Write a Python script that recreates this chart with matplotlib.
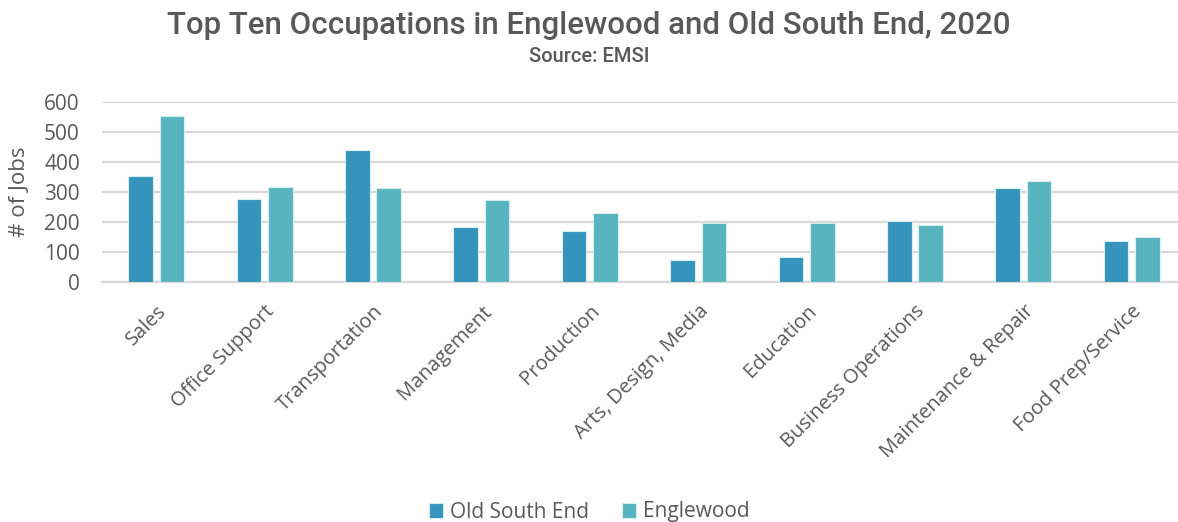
import numpy as np
from matplotlib import pyplot as plt

categories = ['Sales', 'Office Support', 'Transportation', 'Management', 'Production',
              'Arts, Design, Media', 'Education', 'Business Operations',
              'Maintenance & Repair', 'Food Prep/Service']
old_south_end = [352, 276, 440, 182, 169, 72, 84, 202, 314, 137]
englewood = [552, 316, 314, 272, 231, 198, 196, 189, 336, 150]
yticks = [0, 100, 200, 300, 400, 500, 600]

c_ose = '#3594bb'
c_eng = '#58b5c0'
grey = '#595959'

plt.rcParams['font.family'] = ['Open Sans', 'DejaVu Sans']

fig = plt.figure(figsize=(11.78, 5.22), dpi=100)
ax = fig.add_axes([102 / 1178, 1 - 282 / 522, 1084 / 1178, 180 / 522])

x = np.arange(len(categories))
w = 0.226
off = 0.145
ax.bar(x - off, old_south_end, w, color=c_ose, edgecolor='#d6eef2', linewidth=0.8,
       label='Old South End', zorder=3)
ax.bar(x + off, englewood, w, color=c_eng, edgecolor='#d6eef2', linewidth=0.8,
       label='Englewood', zorder=3)

ax.set_xlim(-0.5, len(categories) - 0.5)
ax.set_ylim(0, 600)
ax.set_yticks(yticks)
ax.set_yticklabels([str(v) for v in yticks], fontsize=15, color=grey)
ax.set_xticks(x)
ax.set_xticklabels(categories, rotation=45, ha='right', rotation_mode='anchor',
                   fontsize=14.5, color=grey)
ax.tick_params(axis='both', length=0)
ax.tick_params(axis='y', pad=16)
ax.tick_params(axis='x', pad=14)
ax.grid(axis='y', color='#d9d9d9', linewidth=1.6, zorder=0)
for s in ['top', 'right', 'left']:
    ax.spines[s].set_visible(False)
ax.spines['bottom'].set_color('#d9d9d9')
ax.spines['bottom'].set_linewidth(1.6)
ax.set_ylabel('# of Jobs', fontsize=16, color=grey)
ax.yaxis.set_label_coords(-(102 - 30) / 1084, 0.5)

fig.text(0.5, 1 - 26 / 522, 'Top Ten Occupations in Englewood and Old South End, 2020',
         ha='center', va='center', fontsize=22.5, color=grey, weight='medium',
         family=['Roboto', 'DejaVu Sans'])
fig.text(0.5, 1 - 57 / 522, 'Source: EMSI', ha='center', va='center', fontsize=14.5,
         color=grey, weight='medium', family=['Roboto', 'DejaVu Sans'])

leg = fig.legend(loc='center', bbox_to_anchor=(0.5, 1 - 512 / 522), ncol=2, frameon=False,
                 fontsize=15, handlelength=0.7, handleheight=0.7, columnspacing=1.6,
                 handletextpad=0.3)
for t in leg.get_texts():
    t.set_color(grey)

fig.savefig('out.png', dpi=100)
